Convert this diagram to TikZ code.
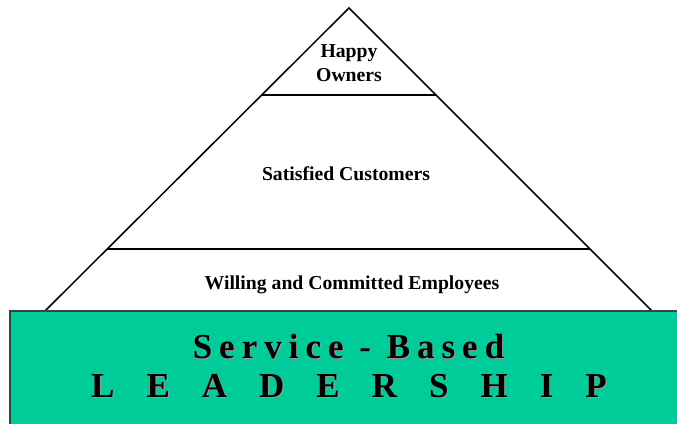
\documentclass[tikz,border=0pt]{standalone}
\usepackage{fontspec}
\setmainfont{Liberation Serif}
\usetikzlibrary{calc}
\definecolor{leadgreen}{RGB}{0,204,153}

\begin{document}
\begin{tikzpicture}[
    x=1pt, y=-1pt,
    % node styles
    tier/.style = {
      inner sep=0pt,
      align=center,
      font=\bfseries\fontsize{19.7}{24}\selectfont
    },
    lead/.style = {
      inner sep=0pt,
      anchor=base,
      font=\bfseries\fontsize{35}{40}\selectfont
    },
    leadshade/.style = {lead, text=black!40},
    % line styles
    side/.style = {line width=1.5pt, draw=black},
    band/.style = {fill=leadgreen, draw=black!75, line width=1.2pt}
  ]
  \clip (0,0) rectangle (677,423);

  % --- Pyramid
  \coordinate (apex) at (349,8);
  \coordinate (bl) at (45,311);
  \coordinate (br) at (652,311);
  \draw[side] (bl) -- (apex) -- (br);
  \draw[side] ($(apex)!0.2871!(bl)$) -- ($(apex)!0.2871!(br)$);
  \draw[side] ($(apex)!0.7954!(bl)$) -- ($(apex)!0.7954!(br)$);

  % --- Base
  \draw[band] (10,311) rectangle (690,440);

  % --- Tier labels
  \node[tier, anchor=north] (owners) at (349,44) {Happy\\Owners};
  \node[tier, anchor=base] (customers) at (346,180) {Satisfied Customers};
  \node[tier, anchor=base] (employees) at (352,289) {Willing and Committed Employees};

  % --- Leadership text (with shadow)
  \node[leadshade] at (349.7,359.5)
    {\addfontfeature{LetterSpace=20}Service - Based};
  \node[lead] (service) at (348.5,358)
    {\addfontfeature{LetterSpace=20}Service - Based};
  \node[leadshade] at (350.2,398.5)
    {\spaceskip=32pt L E A D E R S H I P};
  \node[lead] (leadership) at (349,397)
    {\spaceskip=32pt L E A D E R S H I P};

\end{tikzpicture}
\end{document}
